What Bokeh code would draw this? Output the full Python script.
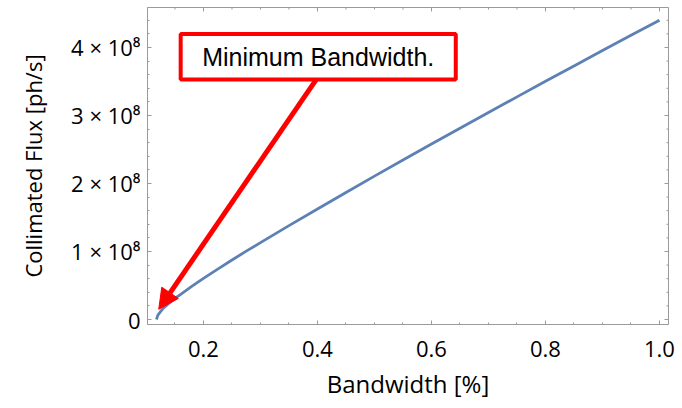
import math
from bokeh.plotting import figure
from bokeh.models import Range1d, FixedTicker, Arrow, NormalHead, ColumnDataSource
from bokeh.core.properties import value
from bokeh.embed import file_html
from bokeh.resources import INLINE

# ---- data ----
bandwidth_pct = [0.1175, 0.12, 0.125, 0.13, 0.14, 0.15, 0.16, 0.18, 0.20, 0.225,
                 0.25, 0.275, 0.30, 0.35, 0.40, 0.45, 0.50, 0.55, 0.60, 0.65,
                 0.70, 0.75, 0.80, 0.85, 0.90, 0.95, 1.00]
flux_1e8 = [0.0, 0.065, 0.12, 0.17, 0.245, 0.31, 0.37, 0.49, 0.605, 0.74,
            0.875, 1.005, 1.13, 1.38, 1.625, 1.868, 2.108, 2.345, 2.58, 2.813,
            3.044, 3.274, 3.502, 3.729, 3.955, 4.179, 4.40]

x_ticks = [0.2, 0.4, 0.6, 0.8, 1.0]
x_minor = [0.15, 0.25, 0.3, 0.35, 0.45, 0.5, 0.55, 0.65, 0.7, 0.75, 0.85, 0.9, 0.95]
y_ticks = [0, 1, 2, 3, 4]
y_minor = [0.2, 0.4, 0.6, 0.8, 1.2, 1.4, 1.6, 1.8, 2.2, 2.4, 2.6, 2.8,
           3.2, 3.4, 3.6, 3.8, 4.2, 4.4]
y_tick_labels = ["0", "1 × 10⁸", "2 × 10⁸", "3 × 10⁸", "4 × 10⁸"]

note_text = ["Minimum Bandwidth."]
note_box_left = [0.160]
note_box_right = [0.6426]
note_box_bottom = [3.53]
note_box_top = [4.20]
arrow_start = (0.398, 3.53)
arrow_end = (0.1215, 0.15)

FRAME = "#9a9a9a"
BLUE = "#5E81B5"
RED = "#FF0000"

xr = Range1d(0.1018, 1.0158)
yr = Range1d(-0.0735, 4.588)

p = figure(frame_width=521, frame_height=317,
           min_border_left=147, min_border_right=10, min_border_top=7,
           min_border_bottom=20,
           x_range=xr, y_range=yr,
           output_backend="svg", toolbar_location=None,
           x_axis_label="Bandwidth [%]", y_axis_label="Collimated Flux [ph/s]")

p.grid.visible = False
p.outline_line_color = FRAME
p.background_fill_color = "white"
p.border_fill_color = "white"

xt = FixedTicker(ticks=x_ticks, minor_ticks=x_minor)
yt = FixedTicker(ticks=y_ticks, minor_ticks=y_minor)
p.xaxis.ticker = xt
p.yaxis.ticker = yt
p.yaxis.major_label_overrides = {t: s for t, s in zip(y_ticks, y_tick_labels)}
p.xaxis.major_label_overrides = {t: f"{t:.1f}" for t in x_ticks}

for ax in (p.xaxis[0], p.yaxis[0]):
    ax.axis_line_color = FRAME
    ax.major_tick_line_color = FRAME
    ax.minor_tick_line_color = FRAME
    ax.major_tick_in = 4
    ax.major_tick_out = 0
    ax.minor_tick_in = 2
    ax.minor_tick_out = 0
    ax.major_label_text_font = "Open Sans"
    ax.major_label_text_font_size = "22px"
    ax.major_label_text_color = "black"
    ax.axis_label_text_font = "Open Sans"
    ax.axis_label_text_font_style = "normal"
    ax.axis_label_text_color = "black"

p.xaxis.major_label_standoff = 16
p.xaxis.axis_label_text_font_size = "24px"
p.xaxis.axis_label_standoff = 7
p.yaxis.major_label_standoff = 7
p.yaxis.axis_label_text_font_size = "22px"
p.yaxis.axis_label_standoff = 20

# mirrored ticks on the top and right frame edges (half of each dash is clipped away)
p.scatter(x=x_ticks, y=[yr.end] * len(x_ticks), marker="dash", size=8,
          angle=math.pi / 2, line_color=FRAME, line_width=1)
p.scatter(x=x_minor, y=[yr.end] * len(x_minor), marker="dash", size=4,
          angle=math.pi / 2, line_color=FRAME, line_width=1)
p.scatter(x=[xr.end] * len(y_ticks), y=y_ticks, marker="dash", size=8,
          line_color=FRAME, line_width=1)
p.scatter(x=[xr.end] * len(y_minor), y=y_minor, marker="dash", size=4,
          line_color=FRAME, line_width=1)

# curve
p.line(bandwidth_pct, flux_1e8, line_color=BLUE, line_width=2.8)

# annotation box
box_src = ColumnDataSource(dict(left=note_box_left, right=note_box_right,
                                bottom=note_box_bottom, top=note_box_top,
                                tx=[(note_box_left[0] + note_box_right[0]) / 2],
                                ty=[(note_box_bottom[0] + note_box_top[0]) / 2],
                                text=note_text))
p.add_layout(Arrow(end=NormalHead(size=20, fill_color=RED, line_color=RED, line_width=1),
                   x_start=arrow_start[0], y_start=arrow_start[1],
                   x_end=arrow_end[0], y_end=arrow_end[1],
                   line_color=RED, line_width=5))
p.quad(left="left", right="right", bottom="bottom", top="top", source=box_src,
       fill_color="white", line_color=RED, line_width=4)
p.text(x="tx", y="ty", text="text", source=box_src,
       text_font=value("Liberation Sans"), text_font_size="25px",
       text_align="center", text_baseline="middle", text_color="black")

open("out.html", "w").write(file_html(p, INLINE))
